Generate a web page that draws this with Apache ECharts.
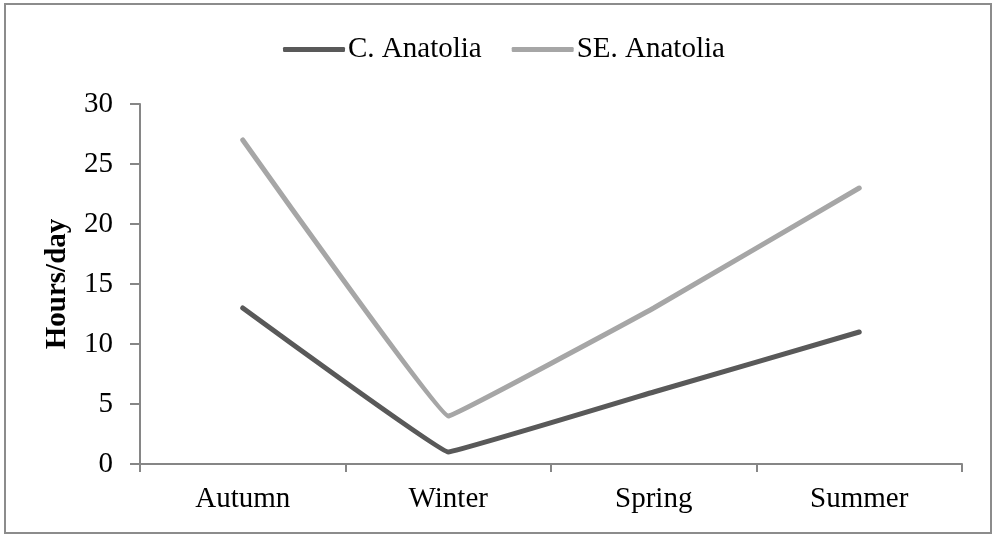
<!DOCTYPE html>
<html>
<head>
<meta charset="utf-8">
<script src="https://cdn.jsdelivr.net/npm/echarts@6/dist/echarts.min.js"></script>
<style>
html,body{margin:0;padding:0;background:#fff;}
#c{width:1000px;height:540px;}
</style>
</head>
<body>
<div id="c"></div>
<script>
const categories = ['Autumn', 'Winter', 'Spring', 'Summer'];
const seriesNames = ['C. Anatolia', 'SE. Anatolia'];
const cAnatolia = [13, 1, 6, 11];
const seAnatolia = [27, 4, 13, 23];
const yTicks = [0, 5, 10, 15, 20, 25, 30];

const font = 'Liberation Serif, Times New Roman, serif';
const chart = echarts.init(document.getElementById('c'));
chart.setOption({
  animation: false,
  backgroundColor: '#fff',
  graphic: [{
    type: 'rect',
    shape: { x: 5, y: 4, width: 986, height: 529 },
    style: { fill: 'none', stroke: '#8c8c8c', lineWidth: 2 },
    silent: true
  }],
  legend: {
    top: 30,
    left: 278,
    itemWidth: 62,
    itemHeight: 5,
    itemGap: 30,
    icon: 'roundRect',
    textStyle: { fontFamily: font, fontSize: 29, color: '#000', padding: [0, 0, 0, -2] },
    data: seriesNames
  },
  grid: { left: 140, right: 38, top: 104, bottom: 76 },
  xAxis: {
    type: 'category',
    data: categories,
    boundaryGap: true,
    axisLine: { lineStyle: { color: '#868686', width: 2 } },
    axisTick: { show: true, length: 8, lineStyle: { color: '#868686', width: 2 } },
    axisLabel: { fontFamily: font, fontSize: 29, color: '#000', margin: 21 }
  },
  yAxis: {
    type: 'value',
    min: yTicks[0],
    max: yTicks[yTicks.length - 1],
    interval: 5,
    name: 'Hours/day',
    nameLocation: 'middle',
    nameGap: 68,
    nameTextStyle: { fontFamily: font, fontSize: 29, fontWeight: 'bold', color: '#000' },
    splitLine: { show: false },
    axisLine: { show: true, lineStyle: { color: '#868686', width: 2 } },
    axisTick: { show: true, length: 10, lineStyle: { color: '#868686', width: 2 } },
    axisLabel: { fontFamily: font, fontSize: 29, color: '#000', margin: 27 }
  },
  series: [
    {
      name: seriesNames[0], type: 'line', data: cAnatolia,
      smooth: 0.04, symbol: 'none',
      lineStyle: { color: '#595959', width: 5, cap: 'round' },
      itemStyle: { color: '#595959' }
    },
    {
      name: seriesNames[1], type: 'line', data: seAnatolia,
      smooth: 0.04, symbol: 'none',
      lineStyle: { color: '#a6a6a6', width: 5, cap: 'round' },
      itemStyle: { color: '#a6a6a6' }
    }
  ]
});
</script>
</body>
</html>
